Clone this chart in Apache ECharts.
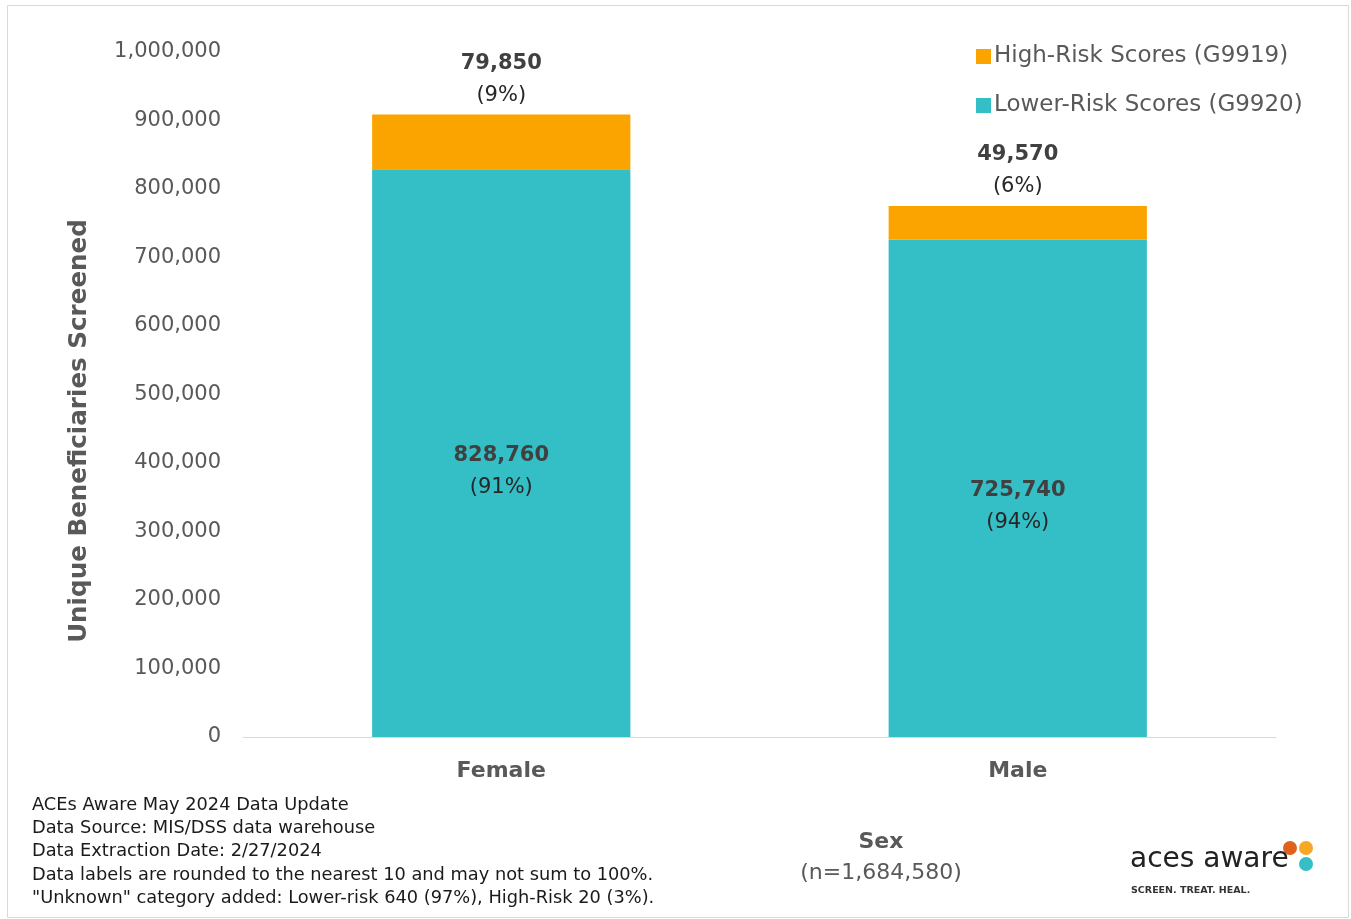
<!DOCTYPE html>
<html>
<head>
<meta charset="utf-8">
<script src="https://cdn.jsdelivr.net/npm/echarts@6/dist/echarts.min.js"></script>
<style>
html,body{margin:0;padding:0;background:#fff;}
#chart{width:1351px;height:919px;}
</style>
</head>
<body>
<div id="chart"></div>
<script>
const categories = ['Female', 'Male'];
const lowerRisk = [828760, 725740];
const highRisk = [79850, 49570];
const lowerPct = ['91%', '94%'];
const highPct = ['9%', '6%'];
const yTicks = { min: 0, max: 1000000, interval: 100000 };
const footerLines = [
  'ACEs Aware May 2024 Data Update',
  'Data Source: MIS/DSS data warehouse',
  'Data Extraction Date: 2/27/2024',
  'Data labels are rounded to the nearest 10 and may not sum to 100%.',
  '"Unknown" category added: Lower-risk 640 (97%), High-Risk 20 (3%).'
];

const FONT = 'DejaVu Sans';
const GRAY = '#595959';
const fmt = v => v.toLocaleString('en-US');

const chart = echarts.init(document.getElementById('chart'));

const labelRich = {
  b: { fontFamily: FONT, fontSize: 21, fontWeight: 'bold', color: '#404040', lineHeight: 32 },
  p: { fontFamily: FONT, fontSize: 21, color: '#262626', lineHeight: 32 }
};

const footerGraphics = footerLines.map((t, i) => ({
  type: 'text', left: 32, top: [796, 819, 842, 866, 889][i],
  style: { text: t, font: '17.8px "' + FONT + '"', fill: '#1a1a1a' }
}));

chart.setOption({
  animation: false,
  backgroundColor: '#fff',
  grid: { left: 243, right: 75, top: 52, bottom: 182 },
  legend: {
    orient: 'vertical', left: 971, top: 40, itemGap: 26,
    icon: 'rect', itemWidth: 15, itemHeight: 15,
    data: ['High-Risk Scores (G9919)', 'Lower-Risk Scores (G9920)'],
    textStyle: { fontFamily: FONT, fontSize: 23, color: GRAY, padding: [0, 0, 0, -2] }
  },
  xAxis: {
    type: 'category', data: categories,
    axisLine: { lineStyle: { color: '#d9d9d9', width: 1 } },
    axisTick: { show: false },
    axisLabel: { fontFamily: FONT, fontSize: 22, fontWeight: 'bold', color: GRAY, margin: 23 }
  },
  yAxis: {
    type: 'value', min: yTicks.min, max: yTicks.max, interval: yTicks.interval,
    axisLine: { show: false }, axisTick: { show: false },
    splitLine: { show: false },
    axisLabel: { fontFamily: FONT, fontSize: 21, color: GRAY, margin: 22, padding: [4, 0, 0, 0], formatter: v => fmt(v) }
  },
  series: [
    {
      name: 'Lower-Risk Scores (G9920)', type: 'bar', stack: 'total', data: lowerRisk,
      barWidth: '50%', itemStyle: { color: '#34BEC6' },
      label: {
        show: true, position: 'inside', offset: [0, 18],
        formatter: p => '{b|' + fmt(p.value) + '}\n{p|(' + lowerPct[p.dataIndex] + ')}',
        rich: labelRich
      }
    },
    {
      name: 'High-Risk Scores (G9919)', type: 'bar', stack: 'total', data: highRisk,
      barWidth: '50%', itemStyle: { color: '#FBA400' },
      label: {
        show: true, position: 'top', distance: 3,
        formatter: p => '{b|' + fmt(p.value) + '}\n{p|(' + highPct[p.dataIndex] + ')}',
        rich: labelRich
      }
    }
  ],
  graphic: [
    { type: 'rect', shape: { x: 7.5, y: 5.5, width: 1341, height: 912 }, style: { fill: 'none', stroke: '#d9d9d9', lineWidth: 1 }, silent: true },
    { type: 'text', x: 80, y: 431, rotation: Math.PI / 2, style: { text: 'Unique Beneficiaries Screened', font: 'bold 24.6px "' + FONT + '"', fill: GRAY, textAlign: 'center', textVerticalAlign: 'middle' } },
    { type: 'text', x: 881, y: 842, style: { text: 'Sex', font: 'bold 22px "' + FONT + '"', fill: GRAY, textAlign: 'center', textVerticalAlign: 'middle' } },
    { type: 'text', x: 881, y: 873, style: { text: '(n=1,684,580)', font: '22px "' + FONT + '"', fill: GRAY, textAlign: 'center', textVerticalAlign: 'middle' } },
    ...footerGraphics,
    // logo
    { type: 'circle', shape: { cx: 1290, cy: 848, r: 7 }, style: { fill: '#E0601E' } },
    { type: 'circle', shape: { cx: 1306, cy: 848, r: 7 }, style: { fill: '#F6A723' } },
    { type: 'circle', shape: { cx: 1306, cy: 864, r: 7 }, style: { fill: '#35BEC6' } },
    { type: 'text', x: 1130, y: 874, style: { text: 'aces aware', font: '28px "' + FONT + '"', fill: '#222', textVerticalAlign: 'bottom' } },
    { type: 'text', x: 1131, y: 891, style: { text: 'SCREEN. TREAT. HEAL.', font: 'bold 9.5px "' + FONT + '"', fill: '#333', textVerticalAlign: 'middle' } }
  ]
});
</script>
</body>
</html>
